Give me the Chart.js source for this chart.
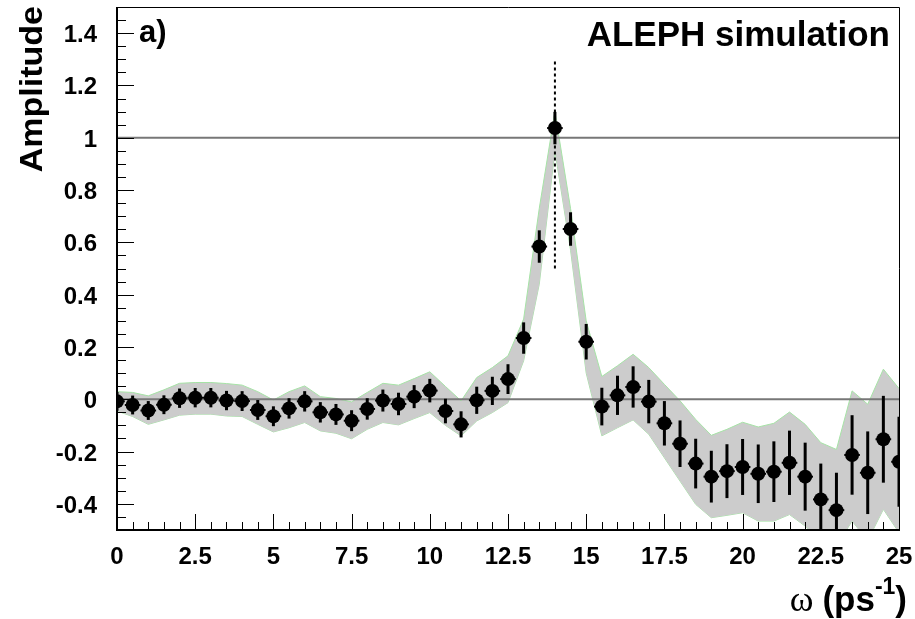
<!DOCTYPE html>
<html>
<head>
<meta charset="utf-8">
<script src="https://cdn.jsdelivr.net/npm/chart.js@4.4.1/dist/chart.umd.min.js"></script>
<style>
  html,body{margin:0;padding:0;background:#fff;}
  #c{display:block;}
</style>
</head>
<body>
<canvas id="c" width="915" height="619"></canvas>
<script>
// omega values (ps^-1), one point every 0.5
const omega = [0,0.5,1,1.5,2,2.5,3,3.5,4,4.5,5,5.5,6,6.5,7,7.5,8,8.5,9,9.5,10,10.5,11,11.5,12,12.5,13,13.5,14,14.5,15,15.5,16,16.5,17,17.5,18,18.5,19,19.5,20,20.5,21,21.5,22,22.5,23,23.5,24,24.5,25];
// measured amplitude
const amplitude = [-0.008,-0.022,-0.043,-0.021,0.004,0.006,0.006,-0.005,-0.007,-0.041,-0.065,-0.035,-0.008,-0.050,-0.058,-0.082,-0.037,-0.005,-0.018,0.010,0.033,-0.045,-0.096,-0.004,0.032,0.077,0.234,0.584,1.037,0.651,0.220,-0.028,0.015,0.047,-0.009,-0.092,-0.170,-0.246,-0.296,-0.275,-0.259,-0.285,-0.277,-0.243,-0.296,-0.383,-0.424,-0.213,-0.281,-0.153,-0.239];
// amplitude error
const ampErr = [0.036,0.036,0.036,0.036,0.037,0.037,0.037,0.037,0.038,0.038,0.038,0.039,0.039,0.039,0.040,0.040,0.041,0.042,0.043,0.044,0.045,0.047,0.050,0.052,0.054,0.057,0.060,0.062,0.062,0.064,0.068,0.072,0.075,0.079,0.083,0.085,0.089,0.095,0.099,0.103,0.107,0.112,0.116,0.123,0.130,0.137,0.143,0.152,0.158,0.166,0.172];
const omegaErr = 0.25;
// grey band (upper / lower edge)
const bandHi = [0.029,0.026,0.013,0.036,0.061,0.064,0.064,0.060,0.054,0.029,-0.003,0.029,0.051,0.010,0.003,-0.010,0.026,0.061,0.054,0.079,0.105,0.049,-0.006,0.083,0.121,0.166,0.307,0.73,1.10,0.73,0.30,0.087,0.128,0.172,0.121,0.057,-0.006,-0.077,-0.138,-0.115,-0.088,-0.106,-0.092,-0.049,-0.096,-0.166,-0.192,0.032,-0.019,0.115,0.041];
const bandLo = [-0.045,-0.066,-0.096,-0.079,-0.061,-0.057,-0.057,-0.064,-0.066,-0.096,-0.125,-0.109,-0.089,-0.121,-0.130,-0.151,-0.115,-0.089,-0.098,-0.074,-0.051,-0.10,-0.14,-0.083,-0.051,-0.013,0.147,0.44,0.95,0.57,0.10,-0.140,-0.109,-0.079,-0.134,-0.224,-0.313,-0.402,-0.453,-0.444,-0.434,-0.466,-0.466,-0.441,-0.485,-0.54,-0.56,-0.466,-0.54,-0.421,-0.51];
// axes
const xTicks = [0,2.5,5,7.5,10,12.5,15,17.5,20,22.5,25];
const xTickLabels = ['0','2.5','5','7.5','10','12.5','15','17.5','20','22.5','25'];
const yTicks = [-0.4,-0.2,0,0.2,0.4,0.6,0.8,1,1.2,1.4];
const yTickLabels = ['-0.4','-0.2','0','0.2','0.4','0.6','0.8','1','1.2','1.4'];
const peakOmega = 14;

const SANS = '"Liberation Sans", Arial, Helvetica, sans-serif';
const SERIF = '"Liberation Serif", "Times New Roman", serif';

const pts = (ys) => omega.map((x,i)=>({x, y:ys[i]}));

// draw text with optional horizontal squeeze, returns drawn width
function txt(ctx, s, x, y, font, align, sq){
  sq = sq || 1;
  ctx.save();
  ctx.font = font;
  ctx.textBaseline = 'alphabetic';
  const w = ctx.measureText(s).width*sq;
  const x0 = align==='right' ? x-w : align==='center' ? x-w/2 : x;
  ctx.translate(x0, y); ctx.scale(sq,1);
  ctx.textAlign = 'left';
  ctx.fillText(s, 0, 0);
  ctx.restore();
  return w;
}

const frame = {
  id:'frame',
  afterDatasetsDraw(chart){
    const {ctx, chartArea:a, scales:{x,y}} = chart;
    // error bars
    ctx.save();
    ctx.beginPath(); ctx.rect(a.left, a.top, a.right-a.left, a.bottom-a.top); ctx.clip();
    ctx.strokeStyle = '#000';
    omega.forEach((w,i)=>{
      const px = x.getPixelForValue(w), py = y.getPixelForValue(amplitude[i]);
      ctx.lineWidth = 3;
      ctx.beginPath();
      ctx.moveTo(px, y.getPixelForValue(amplitude[i]+ampErr[i]));
      ctx.lineTo(px, y.getPixelForValue(amplitude[i]-ampErr[i]));
      ctx.stroke();
      ctx.lineWidth = 2;
      ctx.beginPath();
      ctx.moveTo(x.getPixelForValue(w-omegaErr), py);
      ctx.lineTo(x.getPixelForValue(w+omegaErr), py);
      ctx.stroke();
    });
    ctx.restore();
  },
  afterDraw(chart){
    const {ctx, chartArea:a, scales:{x,y}} = chart;
    ctx.save();
    ctx.strokeStyle = '#000';
    // frame
    ctx.lineWidth = 1;
    ctx.beginPath();
    ctx.moveTo(a.left, a.top+0.5); ctx.lineTo(a.right+0.5, a.top+0.5); ctx.lineTo(a.right+0.5, a.bottom);
    ctx.stroke();
    ctx.lineWidth = 2;
    ctx.beginPath();
    ctx.moveTo(a.left, a.top); ctx.lineTo(a.left, a.bottom); ctx.lineTo(a.right+1, a.bottom);
    ctx.stroke();
    // ticks
    ctx.lineWidth = 1;
    ctx.beginPath();
    for(let v=-0.5; v<=1.5001; v+=0.05){
      const py = Math.round(y.getPixelForValue(v))+0.5;
      const major = yTicks.some(t=>Math.abs(t-v)<1e-6);
      ctx.moveTo(a.left, py); ctx.lineTo(a.left+(major?17:9), py);
    }
    for(let v=0; v<=25.001; v+=0.5){
      const px = Math.round(x.getPixelForValue(v))+0.5;
      const major = xTicks.some(t=>Math.abs(t-v)<1e-6);
      ctx.moveTo(px, a.bottom); ctx.lineTo(px, a.bottom-(major?16:8));
    }
    ctx.stroke();
    // tick labels
    ctx.fillStyle = '#000';
    const tf = 'bold 24px '+SANS;
    yTicks.forEach((v,i)=>txt(ctx, yTickLabels[i], 97, y.getPixelForValue(v)+9, tf, 'right'));
    xTicks.forEach((v,i)=>txt(ctx, xTickLabels[i], x.getPixelForValue(v), 564, tf, 'center'));
    // y title
    ctx.save();
    ctx.translate(42, 6); ctx.rotate(-Math.PI/2); ctx.scale(1, 0.9);
    ctx.font = 'bold 34px '+SANS; ctx.textAlign='right'; ctx.textBaseline='alphabetic';
    ctx.fillText('Amplitude', 0, 0);
    ctx.restore();
    // x title, built right to left
    let xr = 907;
    xr -= txt(ctx, ')', xr, 611, 'bold 35px '+SANS, 'right');
    xr -= txt(ctx, '-1', xr, 594, 'bold 23px '+SANS, 'right');
    xr -= txt(ctx, '(ps', xr, 611, 'bold 35px '+SANS, 'right');
    txt(ctx, 'ω ', xr, 611, '36px '+SERIF, 'right');
    // labels in the frame
    txt(ctx, 'a)', 139, 42, 'bold 31px '+SANS, 'left');
    txt(ctx, 'ALEPH simulation', 890, 46, 'bold 35px '+SANS, 'right');
    ctx.restore();
  }
};

const lineDs = (data, color, width, order, dash) => ({
  type:'line', data, borderColor:color, borderWidth:width, pointRadius:0,
  borderDash:dash||[], fill:false, order, tension:0
});

new Chart(document.getElementById('c'), {
  type:'scatter',
  data:{
    datasets:[
      {type:'scatter', data:pts(amplitude), pointStyle:'circle', pointRadius:7,
       backgroundColor:'#000', borderWidth:0, order:0},
      lineDs([{x:peakOmega,y:0.5},{x:peakOmega,y:1.3}], '#000', 2, 1, [3,3]),
      lineDs([{x:0,y:0},{x:25,y:0}], '#777', 2, 2),
      lineDs([{x:0,y:1},{x:25,y:1}], '#777', 2, 2),
      {type:'line', data:pts(bandHi), borderColor:'#a6e3a6', borderWidth:1, pointRadius:0,
       fill:'+1', backgroundColor:'#cccccc', order:3, tension:0},
      {type:'line', data:pts(bandLo), borderColor:'#a6e3a6', borderWidth:1, pointRadius:0,
       fill:false, order:3, tension:0}
    ]
  },
  options:{
    responsive:false, animation:false, devicePixelRatio:1,
    layout:{padding:{left:117, right:16, top:7, bottom:89}},
    plugins:{legend:{display:false}, tooltip:{enabled:false}},
    scales:{
      x:{type:'linear', min:0, max:25, display:false},
      y:{type:'linear', min:-0.5, max:1.5, display:false}
    }
  },
  plugins:[frame]
});
</script>
</body>
</html>
